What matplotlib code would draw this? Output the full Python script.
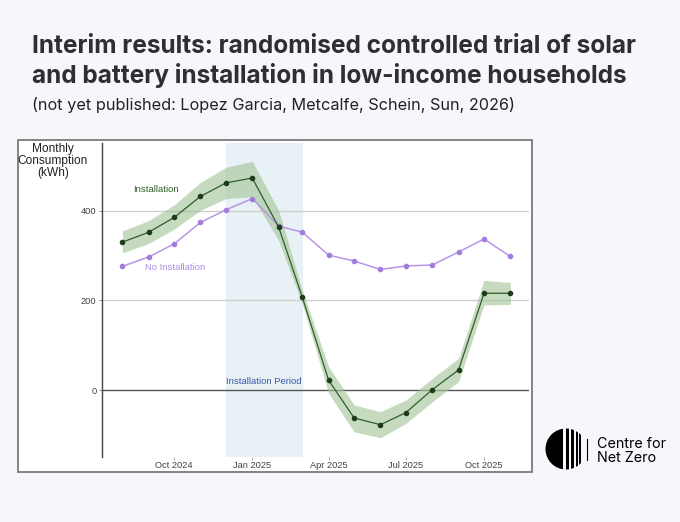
import numpy as np
import pandas as pd
import matplotlib
matplotlib.use("Agg")
import matplotlib.pyplot as plt
import matplotlib.dates as mdates
from matplotlib.patches import Rectangle, Circle

# monthly data, Aug 2024 - Nov 2025
months = pd.date_range("2024-08-01", "2025-11-01", freq="MS")
installed = [330, 352, 385, 432, 462, 473, 364, 207, 22, -62, -77, -50, 1, 45, 216, 216]
installed_hi = [355, 378, 413, 463, 497, 510, 401, 222, 52, -33, -48, -22, 26, 71, 245, 240]
installed_lo = [306, 327, 359, 401, 427, 431, 334, 192, -7, -93, -106, -74, -26, 19, 190, 191]
not_installed = [276, 297, 326, 374, 402, 427, 366, 352, 301, 288, 269, 277, 279, 308, 337, 298]

period_start, period_end = pd.Timestamp("2024-12-01"), pd.Timestamp("2025-03-01")
tick_dates = pd.to_datetime(["2024-10-01", "2025-01-01", "2025-04-01", "2025-07-01", "2025-10-01"])
y_ticks = [0, 200, 400]

W, H = 680, 522
bg = "#f6f6fb"
fig = plt.figure(figsize=(6.8, 5.22), dpi=100, facecolor=bg)

def fx(px): return px / W
def fy(py): return 1 - py / H

# title block
fig.text(fx(32), fy(53), "Interim results: randomised controlled trial of solar",
         fontfamily="Inter", fontweight="bold", fontsize=17.6, color="#2e2e33", va="baseline")
fig.text(fx(32), fy(83), "and battery installation in low-income households",
         fontfamily="Inter", fontweight="bold", fontsize=17.6, color="#2e2e33", va="baseline")
fig.text(fx(32), fy(110), "(not yet published: Lopez Garcia, Metcalfe, Schein, Sun, 2026)",
         fontfamily="Inter", fontsize=11.7, color="#222222", va="baseline")

# white panel with grey border
fig.patches.append(Rectangle((fx(18), fy(472)), fx(532 - 18), (472 - 140) / H,
                             transform=fig.transFigure, facecolor="white",
                             edgecolor="#7a7a7a", linewidth=1.3, zorder=-5))

ax = fig.add_axes([fx(102), fy(457), fx(529 - 102), (457 - 143) / H])
ax.set_facecolor("none")
ax.set_zorder(2)

ax.axvspan(period_start, period_end, color="#e8f1f5", zorder=0)
for v in y_ticks:
    ax.axhline(v, color="#555555" if v == 0 else "#cfcfcf", lw=1.0, zorder=1)

ax.fill_between(months, installed_lo, installed_hi, color="#a3c498", alpha=0.62, lw=0, zorder=2)
ax.plot(months, not_installed, color="#b896e6", lw=1.1, marker="o", ms=3.0,
        mfc="#a27ddc", mec="#a27ddc", zorder=3)
ax.plot(months, installed, color="#2e5e2a", lw=0.9, marker="o", ms=3.0,
        mfc="#1d3d1a", mec="#1d3d1a", zorder=4)

ax.text(pd.Timestamp("2024-09-10"), 448, "Installation", color="#2e5e2a",
        fontfamily="Liberation Sans", fontsize=6.8, ha="center", va="center")
ax.text(pd.Timestamp("2024-10-02"), 274, "No Installation", color="#b08ce6",
        fontfamily="Liberation Sans", fontsize=6.8, ha="center", va="center")
ax.text(pd.Timestamp("2025-01-15"), 20, "Installation Period", color="#3c5aa8",
        fontfamily="Liberation Sans", fontsize=6.8, ha="center", va="center")

ax.set_xlim(pd.Timestamp("2024-07-08"), pd.Timestamp("2025-11-23"))
ax.set_ylim(-149, 551)
ax.set_xticks(tick_dates)
ax.xaxis.set_major_formatter(mdates.DateFormatter("%b %Y"))
ax.set_yticks(y_ticks)
for s in ["top", "right", "bottom"]:
    ax.spines[s].set_visible(False)
ax.spines["left"].set_color("#444444")
ax.spines["left"].set_linewidth(1.0)
ax.tick_params(axis="x", length=2, width=0.6, color="#999999", pad=1,
               labelsize=6.7, labelcolor="#444444")
ax.tick_params(axis="y", length=2, width=0.6, color="#777777", pad=2,
               labelsize=6.7, labelcolor="#444444")
for lab in ax.get_xticklabels() + ax.get_yticklabels():
    lab.set_fontfamily("Liberation Sans")

fig.text(fx(53), fy(161), "Monthly\nConsumption\n(kWh)", ha="center", va="center",
         fontfamily="Liberation Sans", fontsize=8.6, color="#222222", linespacing=1.0)

# Centre for Net Zero logo
lax = fig.add_axes([fx(540), fy(475), fx(55), 50 / H])
lax.set_xlim(540, 595)
lax.set_ylim(475, 425)
lax.set_aspect("equal")
lax.axis("off")
circ = Circle((566, 449), 20.5, transform=lax.transData)
pieces = [(540, 563.3), (565.5, 569.0), (570.7, 573.5), (575.5, 577.5), (579.0, 580.6)]
for x0, x1 in pieces:
    r = lax.add_patch(Rectangle((x0, 425), x1 - x0, 50, color="black", lw=0))
    r.set_clip_path(circ)
lax.plot([586.7, 586.7], [438.5, 460], color="black", lw=0.8)
fig.text(fx(597), fy(447.5), "Centre for", fontfamily="Inter", fontsize=10.3,
         color="black", va="baseline")
fig.text(fx(597), fy(462), "Net Zero", fontfamily="Inter", fontsize=10.3,
         color="black", va="baseline")

fig.savefig("out.png", dpi=100, facecolor=bg)
